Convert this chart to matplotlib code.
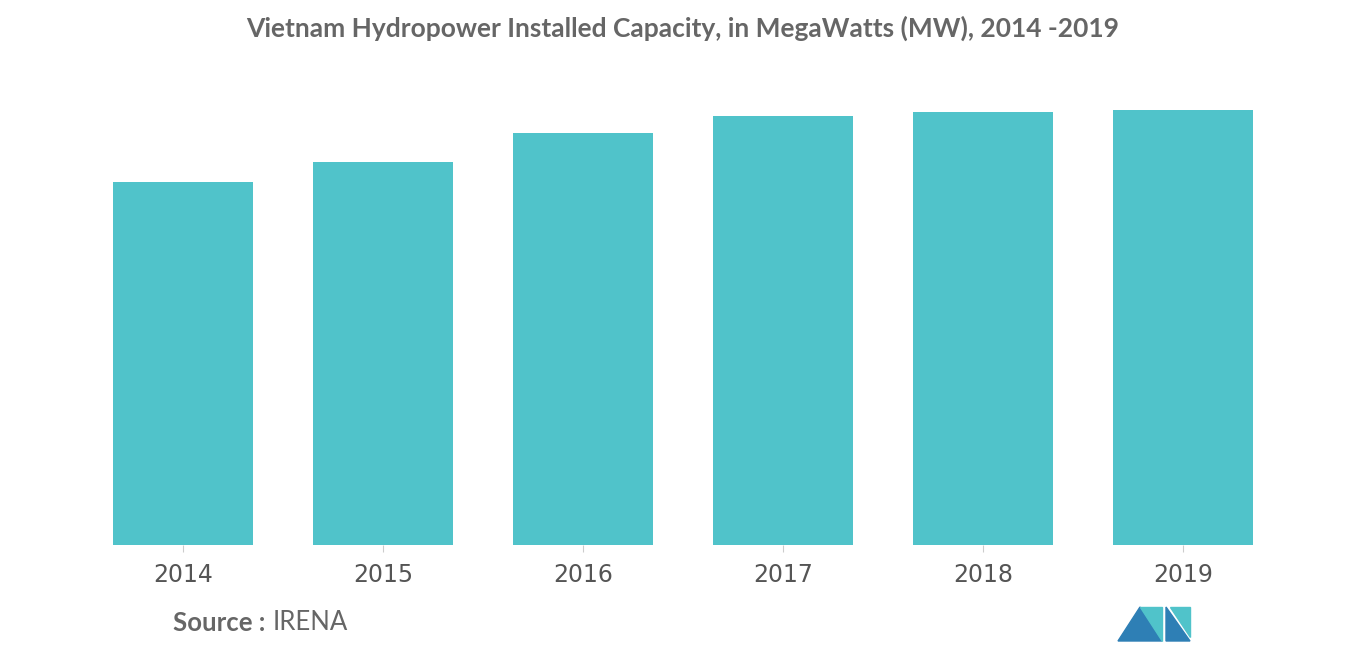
import matplotlib
matplotlib.use("Agg")
import matplotlib.pyplot as plt
from matplotlib.patches import Polygon

years = ["2014", "2015", "2016", "2017", "2018", "2019"]
capacity_mw = [14600, 15400, 16560, 17250, 17400, 17500]

W, H = 1366, 655
fig = plt.figure(figsize=(W / 100, H / 100), dpi=100)
ax = fig.add_axes([83 / W, (H - 545) / H, 1200 / W, 455 / H])

ax.bar(range(len(years)), capacity_mw, width=0.7, color="#50c3ca")
ax.set_xlim(-0.5, len(years) - 0.5)
ax.set_ylim(0, 18300)
ax.set_xticks(range(len(years)))
ax.set_xticklabels(years, fontsize=17, color="#555555", family="DejaVu Sans")
ax.tick_params(axis="x", length=5, color="#cccccc", pad=8)
ax.set_yticks([])
for side in ["left", "right", "top", "bottom"]:
    ax.spines[side].set_visible(False)

fig.text(0.5, 1 - 28 / H, "Vietnam Hydropower Installed Capacity, in MegaWatts (MW), 2014 -2019",
         ha="center", va="center", fontsize=19, color="#666666", family="Lato", weight="bold")
fig.text(173 / W, 1 - 623 / H, "Source :", ha="left", va="center", fontsize=18.5,
         color="#666666", family="Lato", weight="bold")
fig.text(273 / W, 1 - 623 / H, "IRENA", ha="left", va="center", fontsize=18.5,
         color="#666666", family="Lato")

# logo
def px(pts):
    return [(x / W, 1 - y / H) for x, y in pts]

fig.patches.append(Polygon(px([(1118, 641), (1140, 607), (1162, 641)]), closed=True,
                           color="#2e7fb5", transform=fig.transFigure))
fig.patches.append(Polygon(px([(1140, 607), (1162, 607), (1162, 641)]), closed=True,
                           color="#50c3ca", transform=fig.transFigure))
fig.patches.append(Polygon(px([(1166, 607), (1190, 641), (1166, 641)]), closed=True,
                           color="#2e7fb5", transform=fig.transFigure))
fig.patches.append(Polygon(px([(1170, 607), (1190, 607), (1190, 637)]), closed=True,
                           color="#50c3ca", transform=fig.transFigure))

fig.savefig("out.png", dpi=100)
